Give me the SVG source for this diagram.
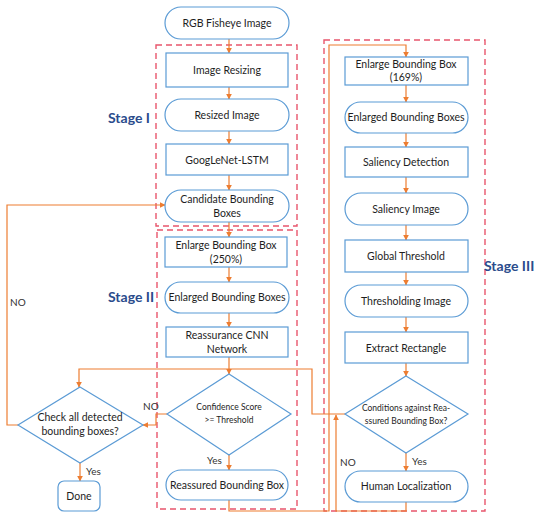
<svg xmlns="http://www.w3.org/2000/svg" width="535" height="513" viewBox="0 0 535 513">
<style>
.n{fill:#fff;stroke:#5B9BD5;stroke-width:1.2}
.t{font-family:Lato,"Liberation Sans",sans-serif;font-size:10.5px;fill:#1e1e1e;text-anchor:middle}
.s{font-family:Lato,"Liberation Sans",sans-serif;font-size:8.5px;fill:#1e1e1e;text-anchor:middle}
.lb{font-family:Lato,"Liberation Sans",sans-serif;font-size:10px;fill:#333}
.st{font-family:Lato,"Liberation Sans",sans-serif;font-size:14px;font-weight:bold;fill:#2B4C8C}
.c{fill:none;stroke:#ED7D31;stroke-width:1.2}
.d{fill:none;stroke:#E8566C;stroke-width:1.4;stroke-dasharray:6 4}
</style>
<defs>
<marker id="a" viewBox="0 0 10 10" refX="9" refY="5" markerWidth="6" markerHeight="6" orient="auto" markerUnits="userSpaceOnUse">
<path d="M0,0 L10,5 L0,10 z" fill="#ED7D31"/>
</marker>
</defs>
<g id="stages">
<rect class="d" x="156" y="45" width="141" height="181"/>
<rect class="d" x="157" y="230" width="140" height="279"/>
<rect class="d" x="324" y="40" width="161" height="471"/>
<text class="st" x="108" y="123">Stage I</text>
<text class="st" x="108" y="302">Stage II</text>
<text class="st" x="484" y="271">Stage III</text>
</g>
<g id="connectors">
<path class="c" marker-end="url(#a)" d="M229,39 V53"/>
<path class="c" marker-end="url(#a)" d="M229,87 V99"/>
<path class="c" marker-end="url(#a)" d="M229,131 V144"/>
<path class="c" marker-end="url(#a)" d="M229,175 V190"/>
<path class="c" marker-end="url(#a)" d="M229,222 V237"/>
<path class="c" marker-end="url(#a)" d="M229,267 V282"/>
<path class="c" marker-end="url(#a)" d="M229,313 V327"/>
<path class="c" marker-end="url(#a)" d="M229,357 V374"/>
<path class="c" marker-end="url(#a)" d="M229,455 V470"/>
<path class="c" marker-end="url(#a)" d="M167,414 H156 V425 H143"/>
<path class="c" marker-end="url(#a)" d="M18,425 H7 V205 H165"/>
<path class="c" marker-end="url(#a)" d="M80,463 V481"/>
<path class="c" marker-end="url(#a)" d="M345,414 H312 V369 H79 V387"/>
<path class="c" marker-end="url(#a)" d="M229,500 V511 H329 V45 H406 V57"/>
<path class="c" marker-end="url(#a)" d="M406,85 V102"/>
<path class="c" marker-end="url(#a)" d="M406,133 V147"/>
<path class="c" marker-end="url(#a)" d="M406,177 V193"/>
<path class="c" marker-end="url(#a)" d="M406,225 V240"/>
<path class="c" marker-end="url(#a)" d="M406,272 V285"/>
<path class="c" marker-end="url(#a)" d="M406,317 V332"/>
<path class="c" marker-end="url(#a)" d="M406,363 V376"/>
<path class="c" marker-end="url(#a)" d="M406,453 V471"/>
<path class="c" marker-end="url(#a)" d="M406,502 V511 H336 V415"/>
<text class="lb" x="143" y="410">NO</text>
<text class="lb" x="10" y="306">NO</text>
<text class="lb" x="86" y="475">Yes</text>
<text class="lb" x="207" y="464">Yes</text>
<text class="lb" x="412" y="465">Yes</text>
<text class="lb" x="340" y="466">NO</text>
</g>
<g id="n1"><rect class="n" x="165" y="7" width="124" height="32" rx="16"/><text class="t" x="227" y="27">RGB Fisheye Image</text></g>
<g id="n2"><rect class="n" x="166" y="53" width="122" height="34"/><text class="t" x="227" y="74">Image Resizing</text></g>
<g id="n3"><rect class="n" x="165" y="99" width="124" height="32" rx="16"/><text class="t" x="227" y="119">Resized Image</text></g>
<g id="n4"><rect class="n" x="166" y="144" width="122" height="31"/><text class="t" x="227" y="164">GoogLeNet-LSTM</text></g>
<g id="n5"><rect class="n" x="165" y="190" width="124" height="32" rx="16"/><text class="t" x="227" y="203">Candidate Bounding</text><text class="t" x="227" y="217">Boxes</text></g>
<g id="n6"><rect class="n" x="165" y="237" width="122" height="30"/><text class="t" x="226" y="249">Enlarge Bounding Box</text><text class="t" x="226" y="263">(250%)</text></g>
<g id="n7"><rect class="n" x="165" y="282" width="124" height="31" rx="15.5"/><text class="t" x="227" y="301">Enlarged Bounding Boxes</text></g>
<g id="n8"><rect class="n" x="166" y="327" width="122" height="30"/><text class="t" x="227" y="339">Reassurance CNN</text><text class="t" x="227" y="353">Network</text></g>
<g id="n9"><polygon class="n" points="229,374 291,414 229,455 167,414"/><text class="s" x="229" y="410">Confidence Score</text><text class="s" x="229" y="423">&gt;= Threshold</text></g>
<g id="n10"><rect class="n" x="166" y="470" width="122" height="30" rx="15"/><text class="t" x="227" y="489">Reassured Bounding Box</text></g>
<g id="n11"><polygon class="n" points="80,387 143,425 80,463 18,425"/><text class="t" x="80" y="421">Check all detected</text><text class="t" x="80" y="435">bounding boxes?</text></g>
<g id="n12"><rect class="n" x="58" y="481" width="42" height="30" rx="6"/><text class="t" x="79" y="500">Done</text></g>
<g id="n13"><rect class="n" x="345" y="57" width="123" height="28"/><text class="t" x="406" y="68">Enlarge Bounding Box</text><text class="t" x="406" y="81">(169%)</text></g>
<g id="n14"><rect class="n" x="345" y="102" width="123" height="31" rx="15.5"/><text class="t" x="406" y="121">Enlarged Bounding Boxes</text></g>
<g id="n15"><rect class="n" x="345" y="147" width="123" height="30"/><text class="t" x="406" y="166">Saliency Detection</text></g>
<g id="n16"><rect class="n" x="345" y="193" width="123" height="32" rx="16"/><text class="t" x="406" y="213">Saliency Image</text></g>
<g id="n17"><rect class="n" x="345" y="240" width="123" height="32"/><text class="t" x="406" y="260">Global Threshold</text></g>
<g id="n18"><rect class="n" x="345" y="285" width="123" height="32" rx="16"/><text class="t" x="406" y="305">Thresholding Image</text></g>
<g id="n19"><rect class="n" x="345" y="332" width="123" height="31"/><text class="t" x="406" y="352">Extract Rectangle</text></g>
<g id="n20"><polygon class="n" points="406,376 468,414 406,453 345,414"/><text class="s" x="406" y="411">Conditions  against Rea-</text><text class="s" x="406" y="424">ssured Bounding Box?</text></g>
<g id="n21"><rect class="n" x="345" y="471" width="123" height="31" rx="15.5"/><text class="t" x="406" y="490">Human Localization</text></g>
</svg>
